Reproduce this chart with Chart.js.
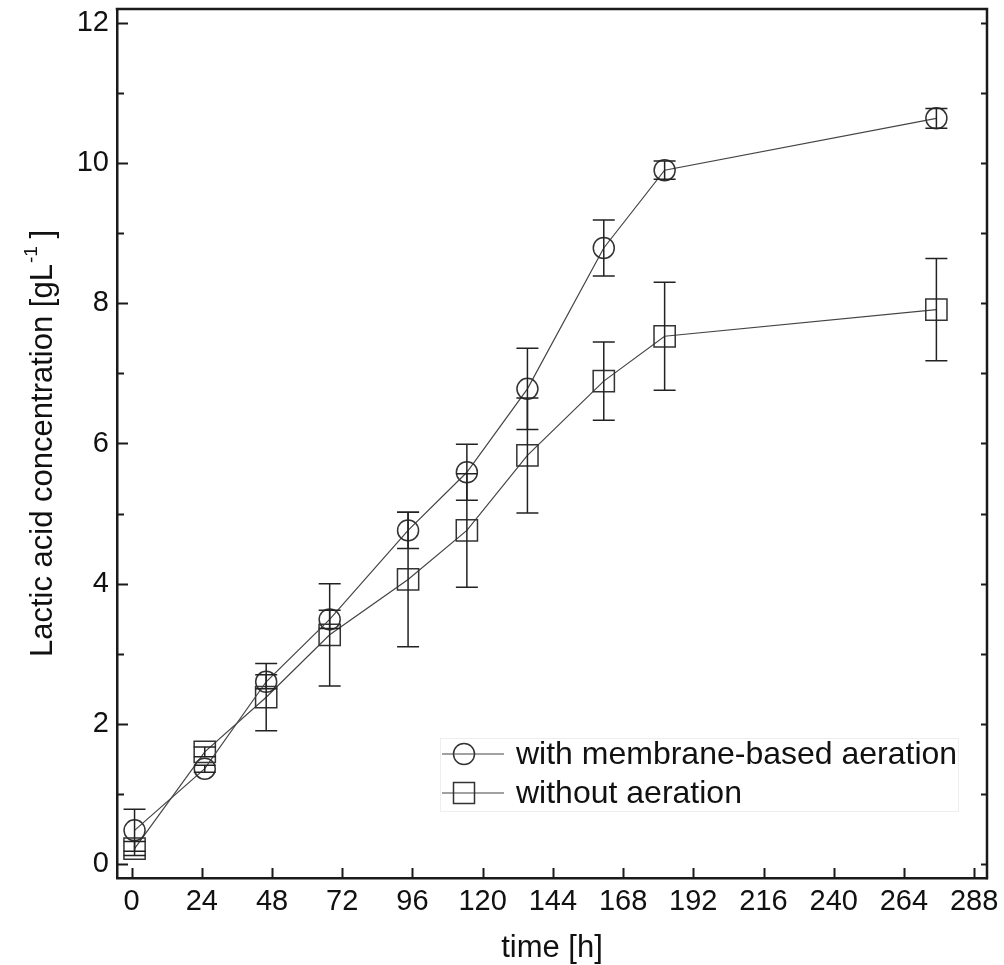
<!DOCTYPE html>
<html><head><meta charset="utf-8">
<script src="https://cdn.jsdelivr.net/npm/chart.js@4/dist/chart.umd.min.js"></script>
<style>html,body{margin:0;padding:0;background:#fff}#wrap{width:1004px;height:965px}</style>
</head><body><div id="wrap"><canvas id="c" width="1004" height="965"></canvas></div>
<script>
// ---- data ----
const timeH = [1, 25, 46, 67.7, 94.5, 114.6, 135.3, 161.4, 182.2, 275.1];
const withAeration = [0.48, 1.36, 2.60, 3.49, 4.76, 5.59, 6.78, 8.79, 9.90, 10.64];
const withAerationErr = [0.30, 0.05, 0.10, 0.13, 0.26, 0.40, 0.58, 0.40, 0.13, 0.14];
const withoutAeration = [0.22, 1.60, 2.38, 3.27, 4.06, 4.76, 5.83, 6.89, 7.53, 7.91];
const withoutAerationErr = [0.10, 0.07, 0.48, 0.73, 0.96, 0.81, 0.82, 0.56, 0.77, 0.73];
const seriesNames = ['with membrane-based aeration', 'without aeration'];
const xTickValues = [0, 24, 48, 72, 96, 120, 144, 168, 192, 216, 240, 264, 288];
const yTickValues = [0, 1, 2, 3, 4, 5, 6, 7, 8, 9, 10, 11, 12];
const yTickLabels = ['0', '', '2', '', '4', '', '6', '', '8', '', '10', '', '12'];
const xTitle = 'time [h]';
const yTitleMain = 'Lactic acid concentration [gL';
const yTitleSup = '-1';
const yTitleEnd = ' ]';

const FONT = '"Liberation Sans", Arial, Helvetica, sans-serif';
const AXIS = '#1a1a1a';
const errs = [withAerationErr, withoutAerationErr];

const toPts = arr => arr.map((v, i) => ({x: timeH[i], y: v}));

const errorBars = {
  id: 'errorBars',
  afterDatasetsDraw(chart) {
    const {ctx, scales: {x, y}} = chart;
    ctx.save();
    ctx.strokeStyle = '#222';
    ctx.lineWidth = 1.5;
    chart.data.datasets.forEach((ds, di) => {
      ds.data.forEach((p, i) => {
        const e = errs[di][i];
        const px = x.getPixelForValue(p.x);
        const t = y.getPixelForValue(p.y + e);
        const b = y.getPixelForValue(p.y - e);
        ctx.beginPath();
        ctx.moveTo(px, t); ctx.lineTo(px, b);
        ctx.moveTo(px - 11, t); ctx.lineTo(px + 11, t);
        ctx.moveTo(px - 11, b); ctx.lineTo(px + 11, b);
        ctx.stroke();
      });
    });
    ctx.restore();
  }
};

function drawMarker(ctx, style, x, y) {
  ctx.beginPath();
  if (style === 'circle') ctx.arc(x, y, 10.5, 0, Math.PI * 2);
  else ctx.rect(x - 10.5, y - 10.5, 21, 21);
  ctx.stroke();
}

const frame = {
  id: 'frame',
  afterDraw(chart) {
    const {ctx, chartArea: a, scales: {x, y}} = chart;
    ctx.save();
    ctx.strokeStyle = AXIS;
    ctx.lineWidth = 2.5;
    ctx.beginPath();
    ctx.moveTo(a.left - 1.25, a.top); ctx.lineTo(a.right, a.top); ctx.lineTo(a.right, a.bottom + 1.25);
    ctx.stroke();
    ctx.lineWidth = 2;
    ctx.beginPath();
    y.ticks.forEach(t => {
      const py = Math.round(y.getPixelForValue(t.value)) + 0.5;
      const len = (t.value % 2 === 0) ? 11 : 7;
      ctx.moveTo(a.left, py); ctx.lineTo(a.left + len, py);
      ctx.moveTo(a.right, py); ctx.lineTo(a.right - 6, py);
    });
    x.ticks.forEach(t => {
      const px = Math.round(x.getPixelForValue(t.value)) + 0.5;
      ctx.moveTo(px, a.bottom); ctx.lineTo(px, a.bottom - 10);
    });
    ctx.stroke();

    // axis titles
    ctx.fillStyle = '#111';
    ctx.font = '31px ' + FONT;
    ctx.textAlign = 'center';
    ctx.textBaseline = 'alphabetic';
    ctx.fillText(xTitle, (a.left + a.right) / 2, 957);

    ctx.save();
    ctx.translate(52, (a.top + a.bottom) / 2);
    ctx.rotate(-Math.PI / 2);
    ctx.textAlign = 'left';
    ctx.font = '31px ' + FONT;
    const w1 = ctx.measureText(yTitleMain).width;
    ctx.font = '19px ' + FONT;
    const w2 = ctx.measureText(yTitleSup).width;
    ctx.font = '31px ' + FONT;
    const w3 = ctx.measureText(yTitleEnd).width;
    let sx = -(w1 + w2 + w3) / 2;
    ctx.fillText(yTitleMain, sx, 0);
    ctx.font = '19px ' + FONT;
    ctx.fillText(yTitleSup, sx + w1 + 1, -15);
    ctx.font = '31px ' + FONT;
    ctx.fillText(yTitleEnd, sx + w1 + w2, 0);
    ctx.restore();

    // legend
    ctx.strokeStyle = '#eeeeee';
    ctx.lineWidth = 1;
    ctx.strokeRect(440.5, 738.5, 518, 73);
    const rows = [754, 793];
    const styles = ['circle', 'rect'];
    rows.forEach((ry, i) => {
      ctx.strokeStyle = '#444';
      ctx.lineWidth = 1.2;
      ctx.beginPath(); ctx.moveTo(442, ry); ctx.lineTo(504, ry); ctx.stroke();
      ctx.strokeStyle = '#333';
      ctx.lineWidth = 1.5;
      drawMarker(ctx, styles[i], 464, ry);
      ctx.fillStyle = '#111';
      ctx.font = '32px ' + FONT;
      ctx.textAlign = 'left';
      ctx.textBaseline = 'middle';
      ctx.fillText(seriesNames[i], 516, ry + 1);
    });
    ctx.restore();
  }
};

new Chart(document.getElementById('c'), {
  type: 'scatter',
  data: {
    datasets: [
      {label: seriesNames[0], data: toPts(withAeration), showLine: true,
       borderColor: '#444', borderWidth: 1.2, pointStyle: 'circle', pointRadius: 10.5,
       pointBorderColor: '#333', pointBorderWidth: 1.5, pointBackgroundColor: 'rgba(0,0,0,0)'},
      {label: seriesNames[1], data: toPts(withoutAeration), showLine: true,
       borderColor: '#444', borderWidth: 1.2, pointStyle: 'rect', pointRadius: 15,
       pointBorderColor: '#333', pointBorderWidth: 1.5, pointBackgroundColor: 'rgba(0,0,0,0)'}
    ]
  },
  options: {
    responsive: false,
    animation: false,
    devicePixelRatio: 1,
    layout: {autoPadding: false, padding: {top: 9, right: 17, left: 0, bottom: 0}},
    plugins: {legend: {display: false}, tooltip: {enabled: false}},
    scales: {
      x: {
        type: 'linear', min: -5, max: 292.4,
        afterBuildTicks: s => { s.ticks = xTickValues.map(v => ({value: v})); },
        afterFit: s => { s.height = 87; s.paddingLeft = 0; s.paddingRight = 0; },
        ticks: {font: {size: 29, family: FONT}, color: '#111', padding: 7, maxRotation: 0, autoSkip: false,
                callback: v => String(v)},
        grid: {drawOnChartArea: false, drawTicks: false},
        border: {display: true, width: 2.5, color: AXIS}
      },
      y: {
        type: 'linear', min: -0.2, max: 12.2,
        afterBuildTicks: s => { s.ticks = yTickValues.map(v => ({value: v})); },
        afterFit: s => { s.width = 117; s.paddingTop = 0; s.paddingBottom = 0; },
        ticks: {font: {size: 29, family: FONT}, color: '#111', padding: 8, autoSkip: false,
                callback: (v, i) => yTickLabels[yTickValues.indexOf(v)] ?? ''},
        grid: {drawOnChartArea: false, drawTicks: false},
        border: {display: true, width: 2.5, color: AXIS}
      }
    }
  },
  plugins: [errorBars, frame]
});
</script></body></html>
